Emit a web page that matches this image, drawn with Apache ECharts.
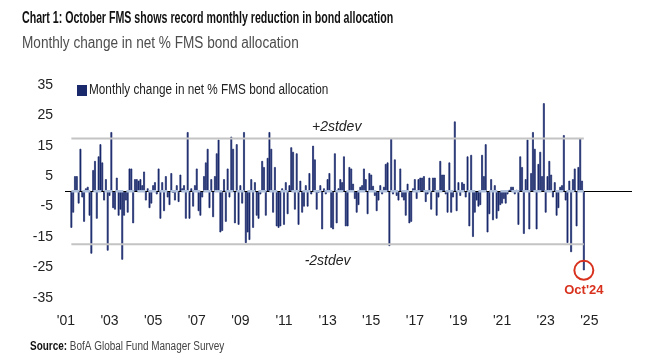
<!DOCTYPE html>
<html>
<head>
<meta charset="utf-8">
<script src="https://cdn.jsdelivr.net/npm/echarts@6/dist/echarts.min.js"></script>
<style>
  html, body { margin: 0; padding: 0; background: #ffffff; }
  #chart { width: 656px; height: 360px; }
</style>
</head>
<body>
<div id="chart"></div>
<script>
// ---- Data (monthly change in net % FMS bond allocation) ----
const firstYear = 2001;
const lastAxisYear = 2026;
const change2001 = [null, null, null, -12, -7, 5, 5, -4, 14, -2, -10, 1];
const change2002 = [1.5, -8, -20.5, 7, 10, -9, 11.5, 15.5, 9.5, -3, 4, -19.5];
const change2003 = [-1.5, 19.5, -5.5, -6, 4.5, -8, -6, -22.5, -8, -3, -7, 7.5];
const change2004 = [7.5, -10.5, 4, 4, 3.5, 4, 2, 6.5, -3, 1, -5.5, -4];
const change2005 = [2, 3, -1, 7.5, -9, 3, -6.5, 5, -2, -4.5, 6, -0.5];
const change2006 = [-3, 2, -3.5, 5.5, 1, 2, -9, 19.5, -9, 1, -5, 2];
const change2007 = [7.5, -6.5, -8, -2, 5, 9.5, 14, -5.5, 4, -8.5, 5, 12.5];
const change2008 = [17, -13.5, -13, 4, -10, 7.5, -2, 18, 14, -10.5, 15.5, -11];
const change2009 = [2, -4, 19.5, -17, -13.5, -16, 4, -12, 3, -8, -9, -1];
const change2010 = [10, 8, -8, 11, 19.5, 14, -7, 8, -11.5, -12, -11.5, 1];
const change2011 = [-11, 3, -7.5, 2, 14.5, 13, -6, 12.5, -11, 3.5, -7, -5];
const change2012 = [2, -5, 6, -1, 15, 10.5, -6, -0.5, 2, -12.5, 1, -1];
const change2013 = [4, 6, -12, -12.5, 12.5, -10.5, 1, 4, 3, 11.5, -11.5, -11.5];
const change2014 = [8, 7.5, 2.5, -2.5, -7, -4.5, 1.5, 2, 7.5, 4, -7.5, 6];
const change2015 = [5.5, 1.8, -1.5, -6.5, -3, 2, -1, 1.5, 9, 9.5, -18, 17.5];
const change2016 = [-1, 10.5, -1.5, -3, 7.5, -2, -3, -8, 2.5, -10.5, -10, 1];
const change2017 = [4, -2.5, 4, 4.5, 4.5, 5, -3.5, -1, 4.5, -6, 4.5, 4.5];
const change2018 = [-8, -2, 10, 5.5, 5.5, -1, -7, 9.5, -7, -2, 23, -6.5];
const change2019 = [3, -1.5, 3, 2.5, -2, 11.5, -11.5, 12, -15, -7, -3, -5];
const change2020 = [-4.5, 12, 5, 15.5, -13.5, -7.5, 4, -9.5, 2, -9, -6.5, -4.5];
const change2021 = [-4, -2.5, -4, -1, 0.5, 1.5, 1.5, -1, 0.5, -11, 11.5, 8];
const change2022 = [-14, 4, 17, -12.5, 6, 19.5, 14, -12.5, 9, 13, 5, 29];
const change2023 = [-7, 5, 10, 5.5, -2, 3, -8, -5.5, 1.5, 2, 18.5, -3];
const change2024 = [-17, 3.5, -20, 4, 7.5, -11.5, 8, 17.5, 3.5, -26];

const stdevLevel = 17.4;          // +/- 2 standard deviations
const tickLabels = ["'01", "'03", "'05", "'07", "'09", "'11", "'13", "'15", "'17", "'19", "'21", "'23", "'25"];
const seriesName = 'Monthly change in net % FMS bond allocation';
const chartTitle = 'Chart 1: October FMS shows record monthly reduction in bond allocation';
const chartSubtitle = 'Monthly change in net % FMS bond allocation';
const sourceLabel = 'Source:';
const sourceText = 'BofA Global Fund Manager Survey';
const highlightMonth = '2024-10';
const highlightLabel = "Oct'24";

// ---- Build axis + aligned series ----
const categories = [];
for (let y = firstYear; y <= lastAxisYear; y++) {
  for (let m = 1; m <= 12; m++) categories.push(y + '-' + (m < 10 ? '0' + m : '' + m));
}
const values = [].concat(change2001, change2002, change2003, change2004, change2005, change2006,
  change2007, change2008, change2009, change2010, change2011, change2012, change2013, change2014,
  change2015, change2016, change2017, change2018, change2019, change2020, change2021, change2022,
  change2023, change2024);
const barData = categories.map((c, i) => (i < values.length ? values[i] : null));
const firstIdx = barData.findIndex(v => v !== null);
const lastIdx = values.length - 1;
const inRange = i => i >= firstIdx && i <= lastIdx;
const upperData = categories.map((c, i) => inRange(i) ? stdevLevel : null);
const lowerData = categories.map((c, i) => inRange(i) ? -stdevLevel : null);
const zeroData = categories.map((c, i) => inRange(i) ? 0 : null);
const tickCats = {};
tickLabels.forEach(t => { tickCats['20' + t.slice(1) + '-01'] = t; });

const sans = "'Liberation Sans', Arial, sans-serif";
const barColor = '#1a296c';

const chart = echarts.init(document.getElementById('chart'), null, { renderer: 'canvas' });
chart.setOption({
  animation: false,
  backgroundColor: '#ffffff',
  graphic: [
    { type: 'text', x: 22, y: 19, scaleX: 0.665, silent: true,
      style: { text: chartTitle, fontFamily: sans, fontWeight: 'bold', fontSize: 16, fill: '#111', verticalAlign: 'middle' } },
    { type: 'text', x: 22, y: 44, scaleX: 0.85, silent: true,
      style: { text: chartSubtitle, fontFamily: sans, fontSize: 16, fill: '#4d4d4d', verticalAlign: 'middle' } },
    { type: 'text', x: 30, y: 347, scaleX: 0.83, silent: true,
      style: { text: '{b|' + sourceLabel + '} {n|' + sourceText + '}', fontFamily: sans, fontSize: 12, fill: '#333', verticalAlign: 'middle',
        rich: { b: { fontFamily: sans, fontWeight: 'bold', fontSize: 12, fill: '#111' },
                n: { fontFamily: sans, fontWeight: 'normal', fontSize: 12, fill: '#444' } } } },
    { type: 'rect', x: 77, y: 85, silent: true, shape: { width: 10, height: 11 }, style: { fill: barColor } },
    { type: 'text', x: 89, y: 90.5, scaleX: 0.84, silent: true,
      style: { text: seriesName, fontFamily: sans, fontSize: 14, fill: '#222', verticalAlign: 'middle' } }
  ],
  grid: { left: 65, right: 24, top: 85, bottom: 62.3 },
  xAxis: {
    type: 'category', data: categories, boundaryGap: true,
    axisLine: { show: false }, axisTick: { show: false }, splitLine: { show: false },
    axisLabel: {
      interval: (idx, val) => tickCats[val] !== undefined,
      formatter: val => tickCats[val] || '',
      margin: 16, fontSize: 14, color: '#222', fontFamily: sans
    }
  },
  yAxis: {
    type: 'value', min: -35, max: 35, interval: 10,
    axisLine: { show: false }, axisTick: { show: false }, splitLine: { show: false },
    axisLabel: { margin: 12, fontSize: 14, color: '#222', fontFamily: sans }
  },
  series: [
    {
      name: seriesName, type: 'bar', data: barData, barCategoryGap: '0%',
      itemStyle: { color: barColor, borderColor: barColor, borderWidth: 0.7 }, z: 2,
      markLine: {
        silent: true, symbol: ['none', 'none'], label: { show: false },
        lineStyle: { color: '#000', width: 1.2, type: 'solid' },
        data: [{ yAxis: 0 }]
      },
      markPoint: {
        symbol: 'circle', symbolSize: 19, silent: true,
        itemStyle: { color: 'rgba(0,0,0,0)', borderColor: '#d8321e', borderWidth: 2 },
        label: { show: true, position: 'bottom', distance: 3, formatter: highlightLabel,
                 color: '#d8321e', fontWeight: 'bold', fontSize: 13, fontFamily: sans },
        data: [{ coord: [highlightMonth, values[categories.indexOf(highlightMonth)]] }]
      }
    },
    {
      name: '+2stdev', type: 'line', data: upperData, showSymbol: false, silent: true, z: 8,
      lineStyle: { color: '#c4c4c4', width: 2 },
      markPoint: {
        symbol: 'circle', symbolSize: 0, silent: true,
        label: { show: true, position: 'top', distance: 4, formatter: '+2stdev',
                 fontStyle: 'italic', fontSize: 14, color: '#222', fontFamily: sans },
        data: [{ coord: ['2013-06', stdevLevel] }]
      }
    },
    {
      name: '-2stdev', type: 'line', data: lowerData, showSymbol: false, silent: true, z: 8,
      lineStyle: { color: '#c4c4c4', width: 2 },
      markPoint: {
        symbol: 'circle', symbolSize: 0, silent: true,
        label: { show: true, position: 'bottom', distance: 10, formatter: '-2stdev',
                 fontStyle: 'italic', fontSize: 14, color: '#222', fontFamily: sans },
        data: [{ coord: ['2013-01', -stdevLevel] }]
      }
    },
    {
      name: 'zero', type: 'line', data: zeroData, showSymbol: false, silent: true, z: 12,
      lineStyle: { color: '#aebfdc', width: 2.5, type: [8, 3] }
    }
  ]
});
</script>
</body>
</html>
